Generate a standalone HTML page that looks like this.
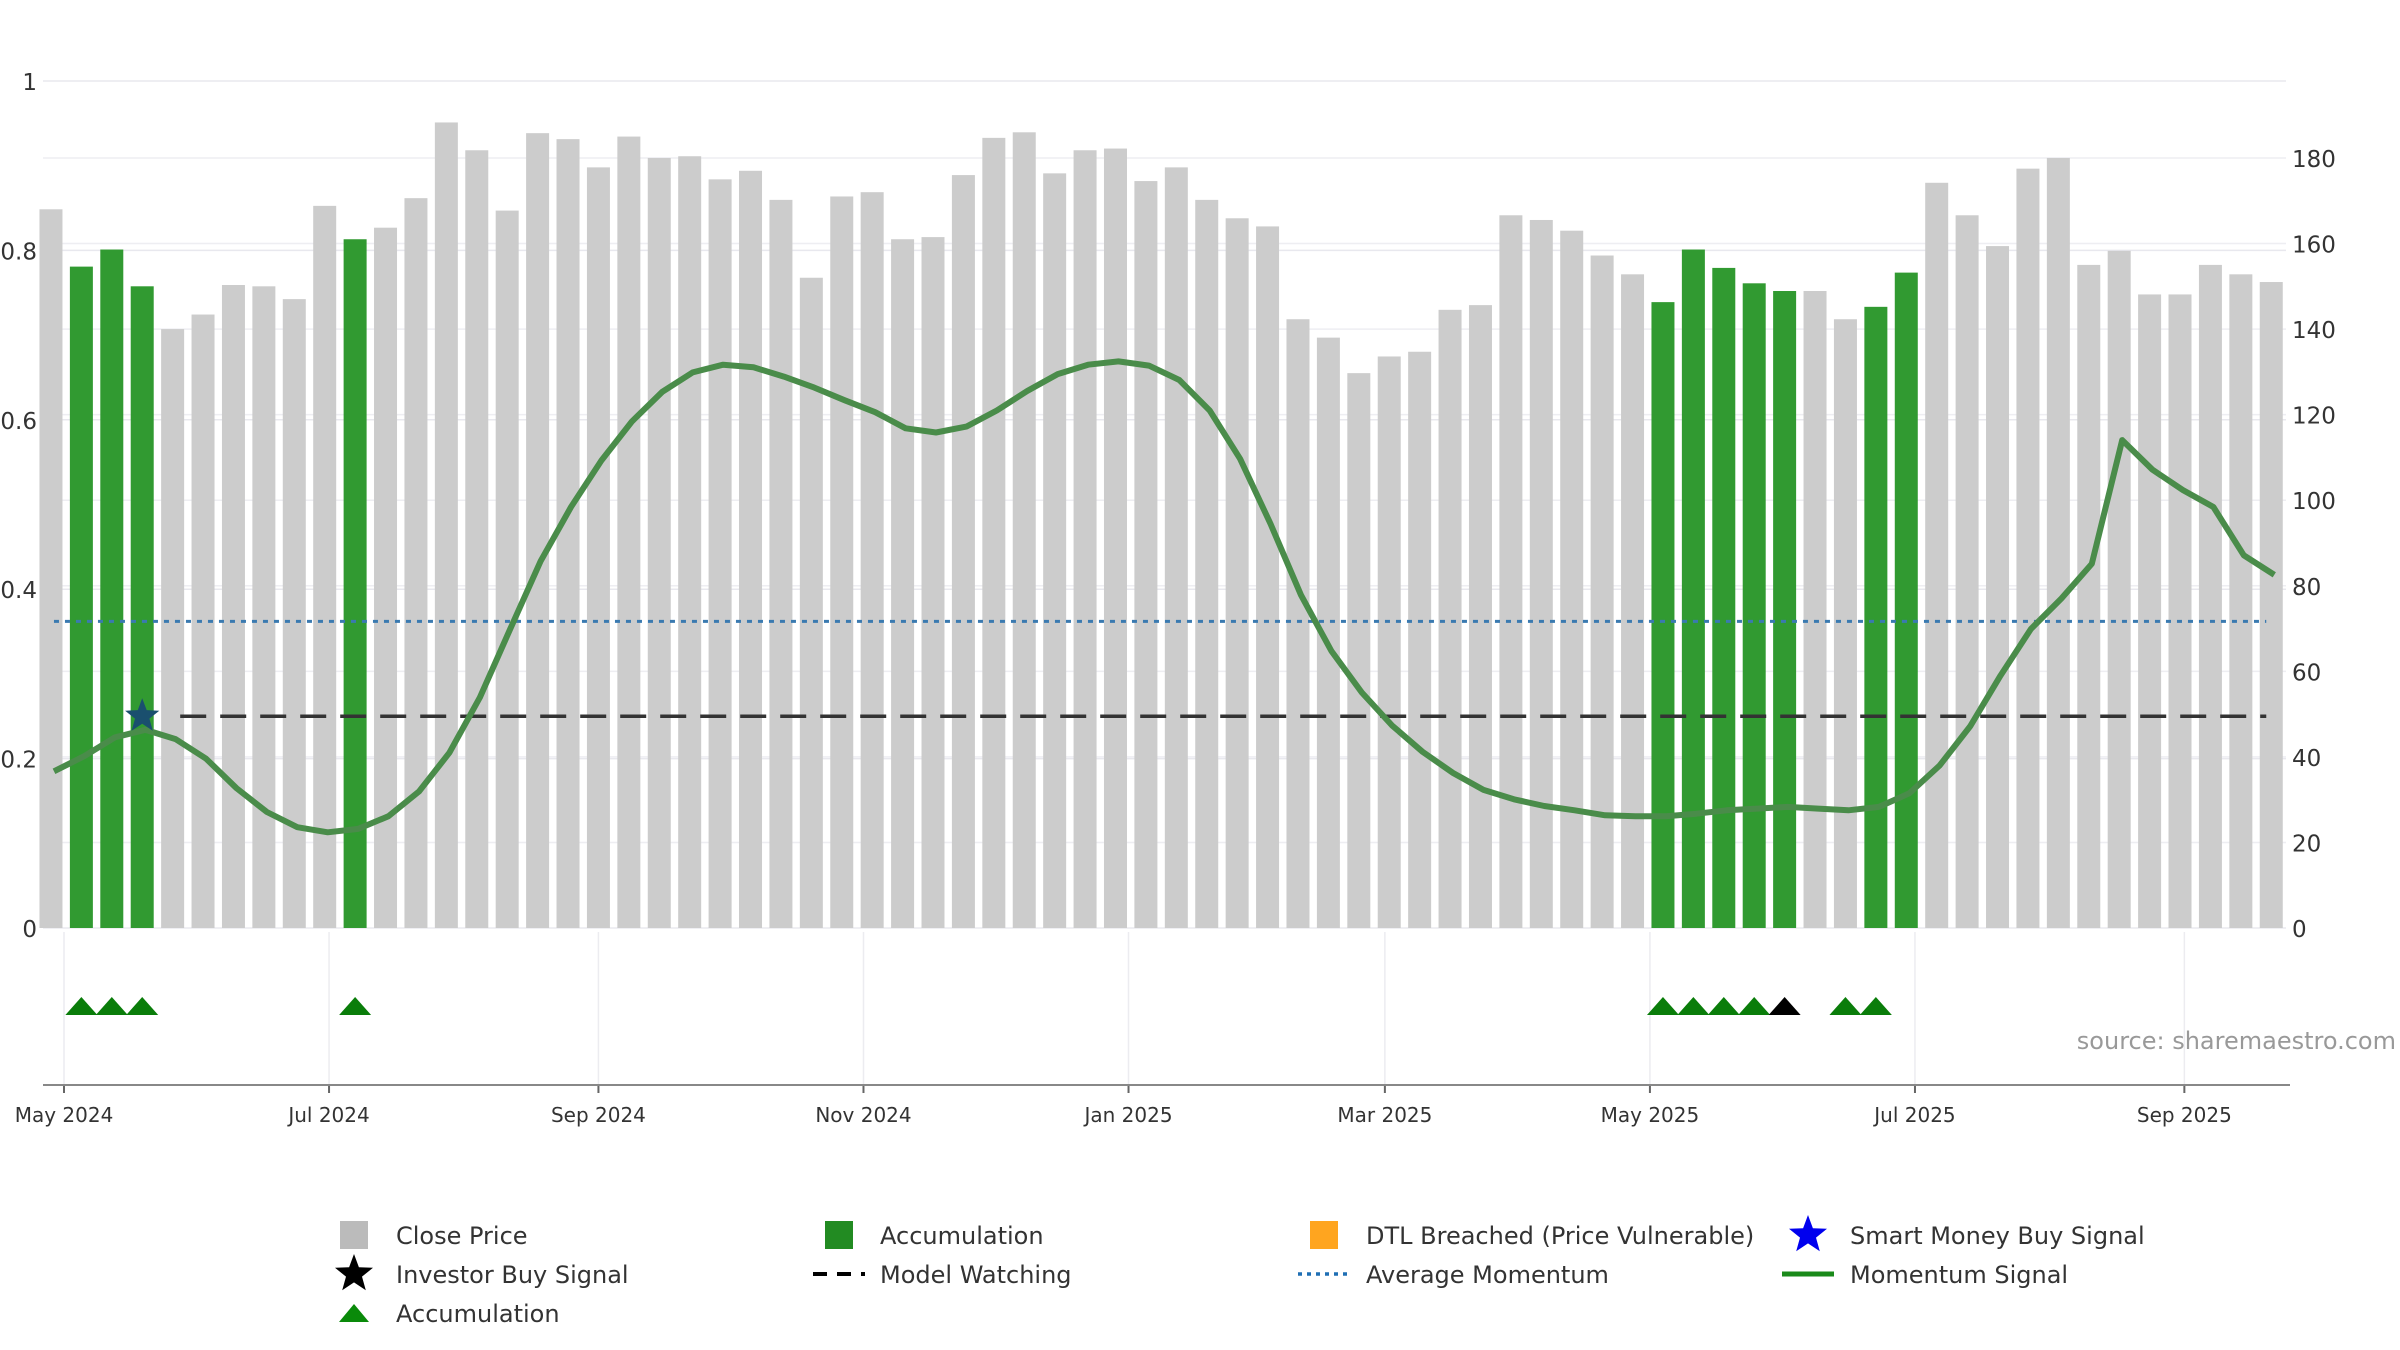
<!DOCTYPE html>
<html><head><meta charset="utf-8"><style>
body{margin:0;background:#fff;}
svg{display:block;font-family:"DejaVu Sans","Liberation Sans",sans-serif;}
</style></head><body>
<svg id="chart" width="2400" height="1350" viewBox="0 0 2400 1350" xmlns="http://www.w3.org/2000/svg">
<g id="grid"></g>
<g id="bars"></g>
<g id="lines"></g>
<g id="markers"></g>
<g id="axes"></g>
<text x="2396" y="1049" text-anchor="end" font-size="24" fill="#999">source: sharemaestro.com</text>
<g id="legend"></g>
</svg>
<script>
const prices = [168,154.6,158.6,150,140,143.4,150.3,150,147,168.8,161,163.7,170.6,188.3,181.8,167.7,185.8,184.4,177.8,185,180,180.4,175,177,170.2,152,171,172,161,161.5,176,184.7,186,176.4,181.8,182.2,174.6,177.8,170.2,165.9,164,142.3,138,129.7,133.6,134.7,144.5,145.6,166.6,165.5,163,157.2,152.8,146.3,158.6,154.3,150.7,148.9,148.9,142.3,145.2,153.2,174.2,166.6,159.4,177.5,180,155,158.3,148.1,148.1,155,152.8,151];
const momentum = [0.185,0.203,0.225,0.234,0.223,0.2,0.165,0.137,0.119,0.113,0.117,0.132,0.161,0.207,0.272,0.353,0.433,0.497,0.552,0.598,0.633,0.656,0.665,0.662,0.651,0.638,0.623,0.609,0.59,0.585,0.592,0.611,0.634,0.654,0.665,0.669,0.664,0.647,0.611,0.554,0.477,0.393,0.327,0.278,0.239,0.208,0.183,0.163,0.152,0.144,0.139,0.133,0.132,0.132,0.135,0.139,0.141,0.143,0.141,0.139,0.143,0.159,0.192,0.238,0.298,0.353,0.389,0.43,0.576,0.541,0.517,0.497,0.44,0.417];
const accumulationIdx = [1,2,3,10,53,54,55,56,57,60,61];
const accTriangleIdx = [1,2,3,10,53,54,55,56,59,60];
const investorIdx = [57];
const smartMoneyIdx = [3];
const avgMomentum = 0.362;
const modelWatching = 0.25;
const leftTicks = [0,0.2,0.4,0.6,0.8,1];
const leftTickLabels = ["0","0.2","0.4","0.6","0.8","1"];
const rightTicks = [0,20,40,60,80,100,120,140,160,180];
const xTickDates = ["2024-05-01","2024-07-01","2024-09-01","2024-11-01","2025-01-01","2025-03-01","2025-05-01","2025-07-01","2025-09-01"];
const xTickLabels = ["May 2024","Jul 2024","Sep 2024","Nov 2024","Jan 2025","Mar 2025","May 2025","Jul 2025","Sep 2025"];
const firstBarDate = "2024-04-28";

const NS="http://www.w3.org/2000/svg";
const DAY=86400000, origin=Date.UTC(2024,4,1);
function xDate(d){return 64+(Date.parse(d+"T00:00:00Z")-origin)/DAY*4.345;}
function xIdx(i){return xDate(firstBarDate)+i*7*4.345;}
function yL(v){return 928-v*847;}
function yR(v){return 928-v*4.278;}
function mk(tag,attrs,parent){const e=document.createElementNS(NS,tag);for(const k in attrs)e.setAttribute(k,attrs[k]);parent.appendChild(e);return e;}
const G=id=>document.getElementById(id);

leftTicks.forEach((t,i)=>{
  const l=mk('line',{x1:43,x2:2286,y1:yL(t),y2:yL(t),stroke:'#e8e8ee','stroke-width':1.5},G('grid'));
  
  
  const tx=mk('text',{x:37,y:yL(t)+9,'text-anchor':'end','font-size':23,fill:'#333'},G('axes'));
  tx.textContent=leftTickLabels[i];
  
  
});
rightTicks.forEach(t=>{
  const l=mk('line',{x1:43,x2:2286,y1:yR(t),y2:yR(t),stroke:'#eeeef2','stroke-width':1.5},G('grid'));
  
  
  const tx=mk('text',{x:2292,y:yR(t)+9,'font-size':23,fill:'#333'},G('axes'));
  tx.textContent=String(t);
  
  
});
xTickDates.forEach((d,i)=>{
  const x=xDate(d);
  const l=mk('line',{x1:x,x2:x,y1:932,y2:1085,stroke:'#ececf0','stroke-width':1.5},G('grid'));
  
  
  const tk=mk('line',{x1:x,x2:x,y1:1085,y2:1093,stroke:'#666','stroke-width':2},G('axes'));
  
  
  const tx=mk('text',{x:x,y:1122,'text-anchor':'middle','font-size':20,fill:'#333'},G('axes'));
  tx.textContent=xTickLabels[i];
  
  
});
const ax=mk('line',{x1:43,x2:2290,y1:1085,y2:1085,stroke:'#888','stroke-width':2},G('axes'));



prices.forEach((p,i)=>{
  const acc=accumulationIdx.includes(i);
  const r=mk('rect',{x:xIdx(i)-11.5,y:yR(p),width:23,height:yR(0)-yR(p),fill:acc?'#319a31':'#cccccc'},G('bars'));
  
  
});

const avg=mk('line',{x1:xIdx(0)+3,x2:xIdx(prices.length-1)-5,y1:yL(avgMomentum),y2:yL(avgMomentum),stroke:'#3a7ab0','stroke-width':3,'stroke-dasharray':'5 6'},G('lines'));


const mw=mk('line',{x1:xIdx(smartMoneyIdx[0])+38,x2:xIdx(prices.length-1)-5,y1:yL(modelWatching),y2:yL(modelWatching),stroke:'#333','stroke-width':3.5,'stroke-dasharray':'26 14'},G('lines'));


const pts=momentum.map((v,i)=>(xIdx(i)+3).toFixed(1)+','+yL(v).toFixed(1)).join(' ');
const ml=mk('polyline',{points:pts,fill:'none',stroke:'#4a8c4a','stroke-width':6,'stroke-linejoin':'round'},G('lines'));



function starPath(cx,cy,R){let d='';for(let k=0;k<10;k++){const r=k%2?R*0.42:R;const a=-Math.PI/2+k*Math.PI/5;d+=(k?'L':'M')+(cx+r*Math.cos(a)).toFixed(1)+' '+(cy+r*Math.sin(a)).toFixed(1);}return d+'Z';}
smartMoneyIdx.forEach(i=>{
  const s=mk('path',{d:starPath(xIdx(i),yL(modelWatching),18),fill:'#1a4f6e'},G('markers'));
  
  
});
function tri(i,color,name){
  const x=xIdx(i);
  const t=mk('polygon',{points:`${x-16},1015 ${x},997 ${x+16},1015`,fill:color},G('markers'));
  
  
}
accTriangleIdx.forEach(i=>tri(i,'#0a7d0a','accumulation-triangle'));
investorIdx.forEach(i=>tri(i,'#000','investor-buy-triangle'));

const L=G('legend');
function ltext(x,y,s){const t=mk('text',{x:x,y:y+9,'font-size':24,fill:'#333'},L);t.textContent=s;}
function lsq(x,y,c,n){const r=mk('rect',{x:x-14,y:y-14,width:28,height:28,fill:c},L);}
function lstar(x,y,c,n){const s=mk('path',{d:starPath(x,y,20),fill:c},L);}
function lline(x,y,c,dash,w,n){const l=mk('line',{x1:x-26,x2:x+26,y1:y,y2:y,stroke:c,'stroke-width':w,'stroke-dasharray':dash},L);}
const r1=1235,r2=1274,r3=1313;
lsq(354,r1,'#bbbbbb','legend-close-price-icon');ltext(396,r1,'Close Price');
lsq(839,r1,'#228b22','legend-accumulation-icon');ltext(880,r1,'Accumulation');
lsq(1324,r1,'#ffa51f','legend-dtl-icon');ltext(1366,r1,'DTL Breached (Price Vulnerable)');
lstar(1808,r1,'#0000ee','legend-smart-money-icon');ltext(1850,r1,'Smart Money Buy Signal');
lstar(354,r2,'#000','legend-investor-icon');ltext(396,r2,'Investor Buy Signal');
lline(839,r2,'#000','14 10',4,'legend-model-watching-icon');ltext(880,r2,'Model Watching');
lline(1324,r2,'#1f6fb4','4 5',3.5,'legend-average-momentum-icon');ltext(1366,r2,'Average Momentum');
lline(1808,r2,'#1a8a1a','none',5,'legend-momentum-signal-icon');ltext(1850,r2,'Momentum Signal');
(function(){const t=mk('polygon',{points:`339,${r3+9} 354,${r3-9} 369,${r3+9}`,fill:'#0a8a0a'},L);})();
ltext(396,r3,'Accumulation');
</script>
</body></html>
